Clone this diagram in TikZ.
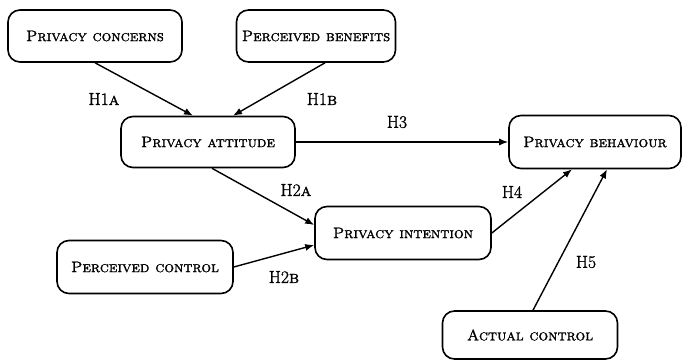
\documentclass[tikz,border=0pt]{standalone}
\usepackage{fontspec}
\setmainfont{Latin Modern Roman}[
  RawFeature={embolden=1.4},
  SmallCapsFont={Latin Modern Roman Caps},
  SmallCapsFeatures={RawFeature={embolden=1.4}}]
\usetikzlibrary{arrows.meta}
\begin{document}
\begin{tikzpicture}[x=1pt,y=-1pt,
  concept/.style={draw, line width=1.6pt, rounded corners=12pt, align=center,
    inner sep=0pt, font=\fontsize{15.3}{18}\selectfont\scshape},
  hyp/.style={font=\fontsize{17.5}{20}\selectfont, inner sep=1pt},
  link/.style={line width=1.4pt, -{Latex[length=9pt,width=7pt]}}]
\useasboundingbox (0,0) rectangle (682,361);
% constructs
\node[concept, minimum width=174pt, minimum height=52pt] (pc)  at (95,36)   {Privacy concerns};
\node[concept, minimum width=159pt, minimum height=52pt] (pb)  at (316,36)  {Perceived benefits};
\node[concept, minimum width=174pt, minimum height=51pt] (pa)  at (208,142) {Privacy attitude};
\node[concept, minimum width=172pt, minimum height=53pt] (pbh) at (595,142) {Privacy behaviour};
\node[concept, minimum width=176pt, minimum height=53pt] (pi)  at (403,233) {Privacy intention};
\node[concept, minimum width=176pt, minimum height=53pt] (pcl) at (145,267) {Perceived control};
\node[concept, minimum width=175pt, minimum height=48pt] (pac) at (530,335) {Actual control};
% hypothesised paths
\draw[link] (pc.south) -- ([xshift=-15pt]pa.north);
\draw[link] ([xshift=9pt]pb.south) -- ([xshift=25pt]pa.north);
\draw[link] (pa.east) -- (pbh.west);
\draw[link] ([xshift=4pt]pa.south) -- ([yshift=8pt]pi.west);
\draw[link] (pcl.east) -- ([yshift=-12pt]pi.west);
\draw[link] (pi.east) -- ([xshift=-23pt]pbh.south);
\draw[link] ([xshift=3pt]pac.north) -- ([xshift=12pt]pbh.south);
% path labels
\node[hyp] (h1a) at (104,99)  {H1\textsc{a}};
\node[hyp] (h1b) at (322,99)  {H1\textsc{b}};
\node[hyp] (h3)  at (397,122) {H3};
\node[hyp] (h2a) at (296,190) {H2\textsc{a}};
\node[hyp] (h4)  at (512,192) {H4};
\node[hyp] (h2b) at (284,277) {H2\textsc{b}};
\node[hyp] (h5)  at (586,262) {H5};
\end{tikzpicture}
\end{document}
